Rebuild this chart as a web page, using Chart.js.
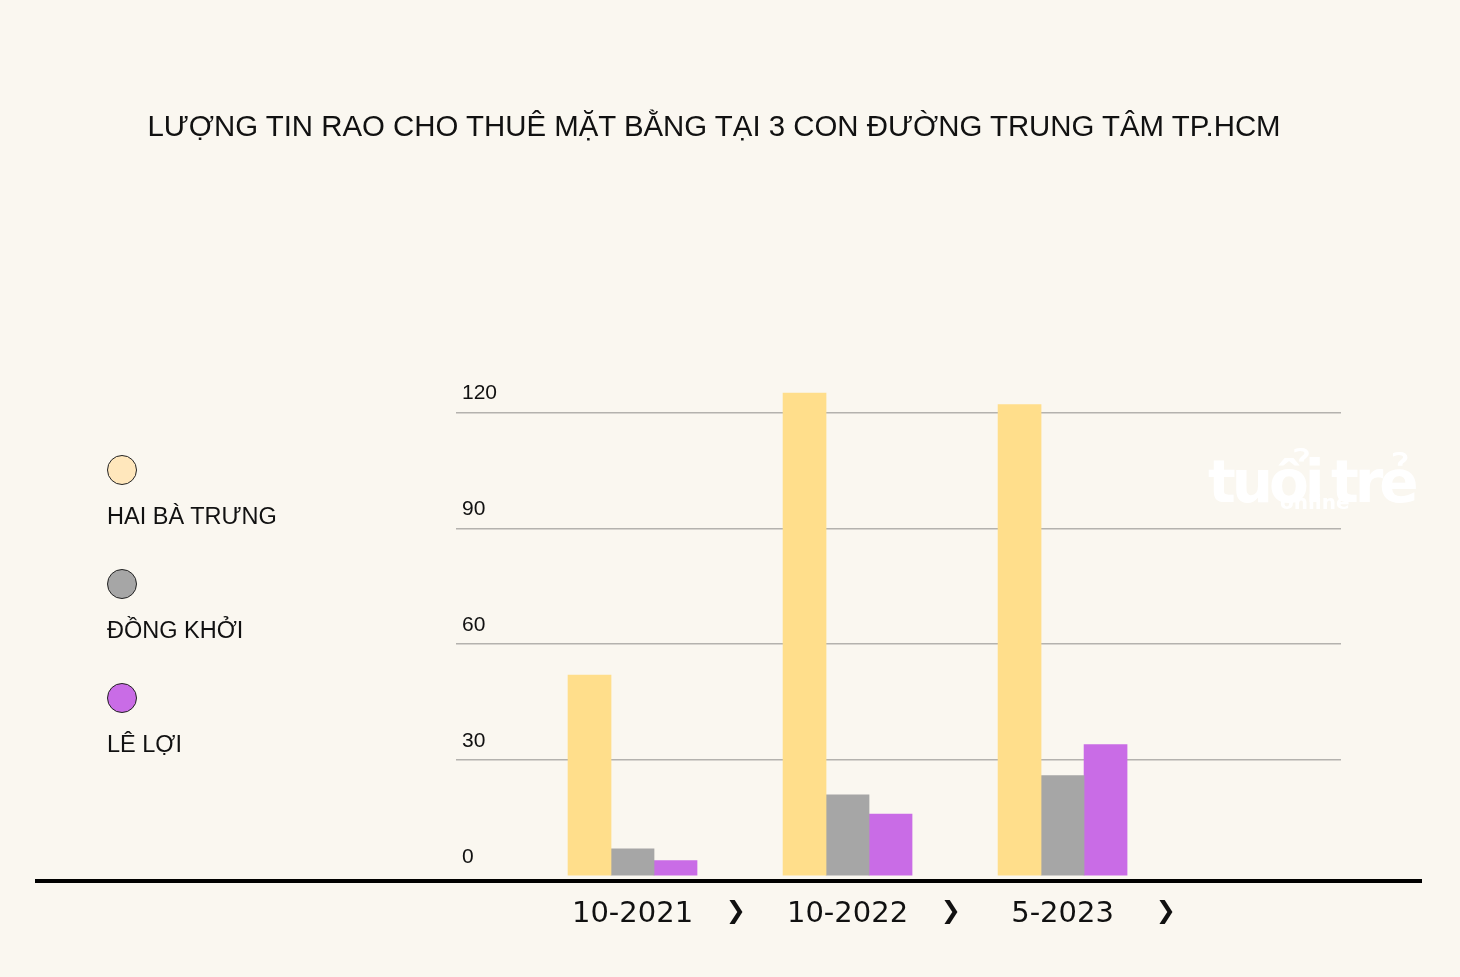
<!DOCTYPE html>
<html lang="vi">
<head>
<meta charset="utf-8">
<title>Lượng tin rao cho thuê mặt bằng</title>
<script src="https://cdn.jsdelivr.net/npm/chart.js@4.4.1/dist/chart.umd.min.js"></script>
<style>
  html, body { margin: 0; padding: 0; background: #faf7f0; }
  #wrap { position: relative; width: 1460px; height: 977px; overflow: hidden; }
  #chart { position: absolute; left: 0; top: 0; }
  #title {
    position: absolute; left: 0; top: 109px; width: 1428px; text-align: center;
    font: 29.4px "Liberation Sans", Arial, sans-serif; color: #111;
  }
  #legend { position: absolute; left: 107px; top: 455px; }
  .lg-item { height: 114px; }
  .lg-dot { width: 28px; height: 28px; border-radius: 50%; border: 1.5px solid #222; }
  .lg-text { margin-top: 18px; font: 23.5px "Liberation Sans", Arial, sans-serif; color: #111; }
  #mark {
    position: absolute; left: 1208px; top: 448px; color: #fff; white-space: nowrap;
    font: bold 58px "DejaVu Sans", sans-serif; letter-spacing: -4px; word-spacing: -6px;
  }
  #mark span { position: absolute; left: 72px; top: 42px; font: bold 20px "DejaVu Sans", sans-serif; letter-spacing: 0; }
</style>
</head>
<body>
<div id="wrap">
  <canvas id="chart" width="1460" height="977"></canvas>
  <div id="title">LƯỢNG TIN RAO CHO THUÊ MẶT BẰNG TẠI 3 CON ĐƯỜNG TRUNG TÂM TP.HCM</div>
  <div id="legend"></div>
  <div id="mark">tuổi trẻ<span>online</span></div>
</div>
<script>
/* ============ DATA ============ */
const categories = ['10-2021', '10-2022', '5-2023'];
const streets = ['HAI BÀ TRƯNG', 'ĐỒNG KHỞI', 'LÊ LỢI'];
const haiBaTrung = [52, 125, 122];
const dongKhoi = [7, 21, 26];
const leLoi = [4, 16, 34];
const yTicks = [0, 30, 60, 90, 120];

/* ============ STYLE ============ */
const barColors = ['#ffde8b', '#a6a6a6', '#c96ce6'];
const dotColors = ['#ffe7bc', '#a6a6a6', '#c96ce6'];
const chevron = '❯';

// HTML legend, built from the series names
const legendEl = document.getElementById('legend');
streets.forEach((name, i) => {
  const item = document.createElement('div');
  item.className = 'lg-item';
  item.innerHTML = `<div class="lg-dot" style="background:${dotColors[i]}"></div><div class="lg-text">${name}</div>`;
  legendEl.appendChild(item);
});

// Thick black base line under the bars
const baseLine = {
  id: 'baseLine',
  afterDatasetsDraw(chart) {
    const { ctx, scales } = chart;
    const y = scales.y.getPixelForValue(0) + 5;
    ctx.save();
    ctx.strokeStyle = '#000';
    ctx.lineWidth = 4;
    ctx.beginPath();
    ctx.moveTo(35, y);
    ctx.lineTo(1422, y);
    ctx.stroke();
    ctx.restore();
  },
};

const series = [haiBaTrung, dongKhoi, leLoi];

new Chart(document.getElementById('chart'), {
  type: 'bar',
  data: {
    datasets: series.map((vals, i) => ({
      label: streets[i],
      data: vals.map((v, k) => ({ x: k, y: v })),
      backgroundColor: barColors[i],
      borderWidth: 0,
      barThickness: 43,
    })),
  },
  options: {
    responsive: false,
    animation: false,
    layout: { padding: { left: 456, right: 119, top: 373.7, bottom: 0 } },
    plugins: {
      legend: { display: false },
      title: { display: false },
      tooltip: { enabled: false },
    },
    scales: {
      x: {
        type: 'linear',
        offset: false,
        min: -0.821,
        max: 3.295,
        grid: { display: false },
        border: { display: false },
        afterBuildTicks: (s) => {
          const t = [];
          categories.forEach((c, i) => {
            t.push({ value: i });
            t.push({ value: i + 0.48 });
          });
          s.ticks = t;
        },
        afterFit: (s) => { s.height = 101; },
        ticks: {
          autoSkip: false,
          maxRotation: 0,
          padding: 13,
          color: '#111',
          font: (c) => (Number.isInteger(c.tick && c.tick.value)
            ? { family: 'DejaVu Sans', size: 29 }
            : { family: 'DejaVu Sans', size: 24 }),
          callback: (v) => (Number.isInteger(v) ? categories[v] : chevron),
        },
      },
      y: {
        min: 0,
        max: 130,
        afterBuildTicks: (s) => { s.ticks = yTicks.map((v) => ({ value: v })); },
        afterFit: (s) => { s.width = 0; },
        grid: {
          drawTicks: false,
          lineWidth: 1.5,
          color: (c) => (c.tick && c.tick.value === 0 ? 'rgba(0,0,0,0)' : '#b4b2ae'),
        },
        border: { display: false },
        ticks: {
          mirror: true,
          padding: 6,
          labelOffset: -19,
          color: '#111',
          font: { family: 'Liberation Sans', size: 21 },
        },
      },
    },
  },
  plugins: [baseLine],
});
</script>
</body>
</html>
